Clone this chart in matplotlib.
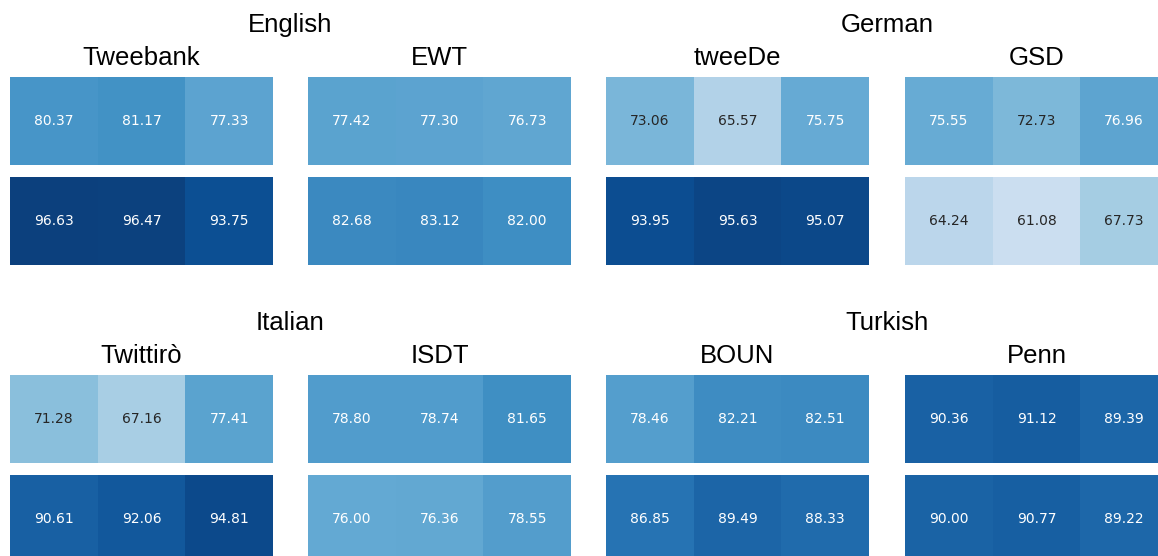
import numpy as np
import matplotlib
matplotlib.use('Agg')
import matplotlib.pyplot as plt
from matplotlib import colors

# languages and treebanks
languages = ['English', 'German', 'Italian', 'Turkish']
treebanks = [['Tweebank', 'EWT'], ['tweeDe', 'GSD'],
             ['Twittirò', 'ISDT'], ['BOUN', 'Penn']]

# scores: first row / second row, three cells each
tweebank_top = [80.37, 81.17, 77.33]
tweebank_bot = [96.63, 96.47, 93.75]
ewt_top = [77.42, 77.30, 76.73]
ewt_bot = [82.68, 83.12, 82.00]
tweede_top = [73.06, 65.57, 75.75]
tweede_bot = [93.95, 95.63, 95.07]
gsd_top = [75.55, 72.73, 76.96]
gsd_bot = [64.24, 61.08, 67.73]
twittiro_top = [71.28, 67.16, 77.41]
twittiro_bot = [90.61, 92.06, 94.81]
isdt_top = [78.80, 78.74, 81.65]
isdt_bot = [76.00, 76.36, 78.55]
boun_top = [78.46, 82.21, 82.51]
boun_bot = [86.85, 89.49, 88.33]
penn_top = [90.36, 91.12, 89.39]
penn_bot = [90.00, 90.77, 89.22]

scores = {
    'Tweebank': (tweebank_top, tweebank_bot),
    'EWT': (ewt_top, ewt_bot),
    'tweeDe': (tweede_top, tweede_bot),
    'GSD': (gsd_top, gsd_bot),
    'Twittirò': (twittiro_top, twittiro_bot),
    'ISDT': (isdt_top, isdt_bot),
    'BOUN': (boun_top, boun_bot),
    'Penn': (penn_top, penn_bot),
}

W, H = 1158, 556
fig = plt.figure(figsize=(W / 100, H / 100), dpi=100)

# Blues, dark end slightly washed out like the original render
t = np.linspace(0, 1, 256)
base = plt.get_cmap('Blues')(t)[:, :3]
gray = base.dot([.299, .587, .114])[:, None]
k = (np.clip(t - 0.6, 0, None) / 0.4 * 0.12)[:, None]
soft = base * (1 - k) + gray * k
cmap = colors.ListedColormap(soft)
norm = colors.Normalize(vmin=50, vmax=100)
title_font = 'Liberation Sans'


def lum(c):
    rgb = np.array(colors.to_rgb(c))
    rgb = np.where(rgb <= .03928, rgb / 12.92, ((rgb + .055) / 1.055) ** 2.4)
    return rgb.dot([.2126, .7152, .0722])


def px_axes(x0, y0, w, h):
    # pixel box (top-left origin) -> figure fraction
    return fig.add_axes([x0 / W, 1 - (y0 + h) / H, w / W, h / H])


col_x = [10, 308, 606, 905]
cell_w = 263
block_y = [77, 375]
row_h = 88
row_gap = 12

for li, lang in enumerate(languages):
    by = block_y[li // 2]
    c0 = (li % 2) * 2
    cx = (col_x[c0] + col_x[c0 + 1] + cell_w) / 2
    fig.text(cx / W, 1 - (by - 52) / H, lang, ha='center', va='center',
             fontsize=18.5, family=title_font)
    for ti, tb in enumerate(treebanks[li]):
        x0 = col_x[c0 + ti]
        fig.text((x0 + cell_w / 2) / W, 1 - (by - 19) / H, tb, ha='center',
                 va='center', fontsize=18.5, family=title_font)
        for ri, row in enumerate(scores[tb]):
            y0 = by + ri * (row_h + row_gap)
            ax = px_axes(x0, y0, cell_w, row_h)
            vals = np.array([row])
            ax.imshow(vals, cmap=cmap, norm=norm, aspect='auto')
            for j, v in enumerate(row):
                c = cmap(norm(v))
                tc = '.15' if lum(c) > .408 else 'w'
                ax.text(j, 0, f'{v:.2f}', ha='center', va='center',
                        fontsize=10, color=tc)
            ax.set_axis_off()

fig.savefig('out.png', dpi=100)
